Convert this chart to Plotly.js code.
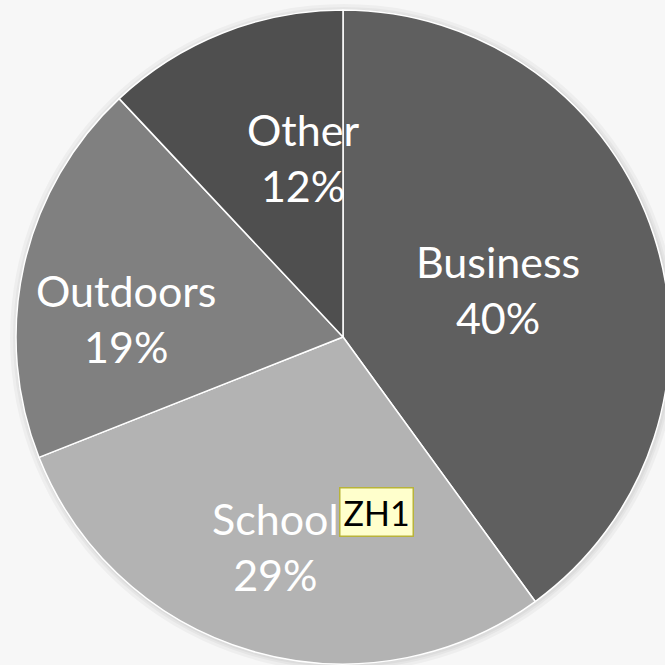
<!DOCTYPE html>
<html>
<head>
<meta charset="utf-8">
<script src="https://cdn.plot.ly/plotly-3.0.1.min.js"></script>
<style>
html,body{margin:0;padding:0;background:#f7f7f7;overflow:hidden;}
#chart{width:670px;height:665px;}
</style>
</head>
<body>
<div id="chart"></div>
<script>
const categories = ["Business", "School", "Outdoors", "Other"];
const values = [40, 29, 19, 12];
const sliceColors = ["#5f5f5f", "#b3b3b3", "#808080", "#4f4f4f"];
const noteText = "ZH1";

// label anchor positions (pixels in page)
const labelPos = [[498, 290], [275, 546], [126, 318], [303, 157]];
const notePos = [376, 512];

const L = 16, T = 10, S = 654;
const px = x => (x - L) / S;
const py = y => 1 - (y - T) / S;

const total = values.reduce((a, b) => a + b, 0);
const annotations = categories.map((c, i) => ({
  xref: "paper", yref: "paper",
  x: px(labelPos[i][0]), y: py(labelPos[i][1]),
  xanchor: "center", yanchor: "middle",
  text: c + "<br>" + Math.round(values[i] / total * 100) + "%",
  showarrow: false,
  font: {family: "Lato, 'Open Sans', sans-serif", size: 43, color: "#ffffff"}
}));
annotations.push({
  xref: "paper", yref: "paper",
  x: px(notePos[0]), y: py(notePos[1]),
  xanchor: "center", yanchor: "middle",
  text: noteText, showarrow: false,
  bgcolor: "#ffffcc", bordercolor: "#b8b33a", borderwidth: 1.5, borderpad: 3,
  font: {family: "Lato, 'Open Sans', sans-serif", size: 34, color: "#000000"}
});

const shapes = [7, 4, 2].map((d, i) => ({
  type: "circle", xref: "paper", yref: "paper", layer: "below",
  x0: px(343 - 327 - d + 1), x1: px(343 + 327 + d + 1),
  y0: py(337 + 327 + d + 1), y1: py(337 - 327 - d + 1),
  fillcolor: "rgba(0,0,0,0.035)", line: {width: 0}
}));

const data = [{
  type: "pie",
  labels: categories,
  values: values,
  sort: false,
  direction: "clockwise",
  rotation: 0,
  textinfo: "none",
  hoverinfo: "label+percent",
  marker: {colors: sliceColors, line: {color: "#ffffff", width: 1.5}},
  showlegend: false
}];

const layout = {
  width: 670, height: 665,
  margin: {l: L, r: 0, t: T, b: 1, pad: 0},
  paper_bgcolor: "#f7f7f7",
  plot_bgcolor: "#f7f7f7",
  showlegend: false,
  annotations: annotations,
  shapes: shapes
};

Plotly.newPlot("chart", data, layout, {displayModeBar: false, staticPlot: true});
</script>
</body>
</html>
